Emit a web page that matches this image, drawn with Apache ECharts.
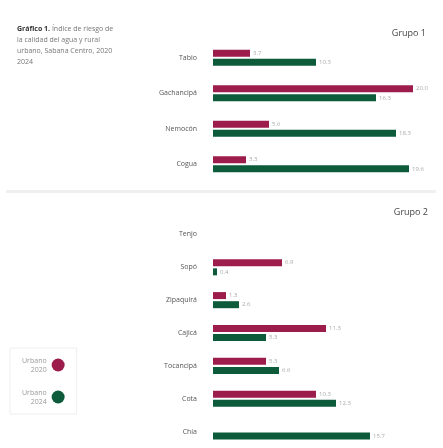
<!DOCTYPE html>
<html>
<head>
<meta charset="utf-8">
<script src="https://cdn.jsdelivr.net/npm/echarts@6/dist/echarts.min.js"></script>
<style>
  html, body { margin: 0; padding: 0; background: #fff; }
  #chart { width: 443px; height: 448px; }
</style>
</head>
<body>
<div id="chart"></div>
<script>
// Grupo 1
const grupo1Cats = ['Tabio', 'Gachancipá', 'Nemocón', 'Cogua'];
const grupo1Y2020 = [3.7, 20.0, 5.6, 3.3];
const grupo1Y2024 = [10.3, 16.3, 18.3, 19.6];

// Grupo 2
const grupo2Cats = ['Tenjo', 'Sopó', 'Zipaquirá', 'Cajicá', 'Tocancipá', 'Cota', 'Chía'];
const grupo2Y2020 = [null, 6.9, 1.3, 11.3, 5.3, 10.3, null];
const grupo2Y2024 = [null, 0.4, 2.6, 5.3, 6.6, 12.3, 15.7];

const seriesNames = ['Urbano\n2020', 'Urbano\n2024'];
const colors = ['#9c1c4b', '#0e5b3b'];

const chart = echarts.init(document.getElementById('chart'));

const valLabel = {
  show: true,
  position: 'right',
  distance: 3,
  fontSize: 6,
  color: '#aaa',
  formatter: (p) => (p.value == null ? '' : p.value.toFixed(1))
};

function barSeries(name, data, axisIdx, color) {
  return {
    name: name,
    type: 'bar',
    xAxisIndex: axisIdx,
    yAxisIndex: axisIdx,
    data: data,
    barWidth: 7,
    barGap: '30%',
    itemStyle: {color: color},
    label: valLabel
  };
}

const catAxis = (cats, idx) => ({
  type: 'category',
  gridIndex: idx,
  data: cats,
  inverse: true,
  axisLine: {show: false},
  axisTick: {show: false},
  axisLabel: {fontSize: 7, color: '#555', margin: 16}
});

const valAxis = (idx) => ({
  type: 'value',
  gridIndex: idx,
  min: 0,
  max: 22,
  show: false
});

chart.setOption({
  backgroundColor: '#fff',
  animation: false,
  textStyle: {fontFamily: 'Open Sans'},
  title: [
    {
      text: '{b|Gráfico 1.} Índice de riesgo de\nla calidad del agua y rural\nurbano, Sabana Centro, 2020\n2024',
      left: 12,
      top: 18,
      textStyle: {
        fontSize: 7,
        fontWeight: 'normal',
        color: '#777',
        lineHeight: 11,
        rich: {b: {fontSize: 7, fontWeight: 'bold', color: '#333'}}
      }
    },
    {text: 'Grupo 1', right: 12, top: 24, textStyle: {fontSize: 9, fontWeight: 'normal', color: '#444'}},
    {text: 'Grupo 2', right: 10, top: 203, textStyle: {fontSize: 9, fontWeight: 'normal', color: '#444'}}
  ],
  legend: {
    orient: 'vertical',
    left: 10,
    top: 348,
    align: 'right',
    icon: 'circle',
    itemWidth: 13,
    itemHeight: 13,
    itemGap: 14,
    padding: [8, 12],
    borderColor: '#eee',
    borderWidth: 1,
    textStyle: {fontSize: 7, color: '#999', lineHeight: 9, align: 'center'},
    data: seriesNames
  },
  graphic: [
    {
      type: 'rect',
      shape: {x: 6, y: 190, width: 430, height: 3},
      style: {fill: '#f0f0f0'}
    }
  ],
  grid: [
    {left: 213, width: 220, top: 40, height: 142},
    {left: 213, width: 220, top: 218, height: 236}
  ],
  xAxis: [valAxis(0), valAxis(1)],
  yAxis: [catAxis(grupo1Cats, 0), catAxis(grupo2Cats, 1)],
  series: [
    barSeries(seriesNames[0], grupo1Y2020, 0, colors[0]),
    barSeries(seriesNames[1], grupo1Y2024, 0, colors[1]),
    barSeries(seriesNames[0], grupo2Y2020, 1, colors[0]),
    barSeries(seriesNames[1], grupo2Y2024, 1, colors[1])
  ]
});
</script>
</body>
</html>
